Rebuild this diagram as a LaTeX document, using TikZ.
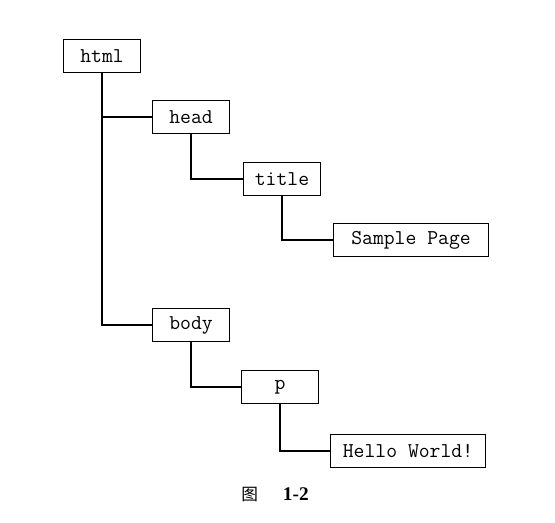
\documentclass[tikz,border=0pt]{standalone}
\usepackage{fontspec}
\newfontfamily\cjk{Noto Sans CJK SC}
\newfontfamily\capfont{Liberation Serif}
\tikzset{
	tag/.style={draw,line width=.8pt,minimum width=1.54cm,minimum height=.66cm,inner sep=0pt,font=\fontsize{12}{14}\ttfamily},
	wide/.style={tag,minimum width=3.1cm},
	branch/.style={line width=.8pt}
}
\begin{document}
\begin{tikzpicture}[x=.02cm,y=-.02cm]
\useasboundingbox (0,0) rectangle (555,522);
\node[tag] (html) at (102,56) {html};
\node[tag] (head) at (191,117) {head};
\node[tag] (title) at (282,179) {title};
\node[wide] (sample) at (411,240) {Sample Page};
\node[tag] (body) at (191,325) {body};
\node[tag] (p) at (280,387) {p};
\node[wide] (hello) at (408,451) {Hello World!};
\draw[branch] (html.south) |- (head.west);
\draw[branch] (html.south) |- (body.west);
\draw[branch] (head.south) |- (title.west);
\draw[branch] (title.south) |- (sample.west);
\draw[branch] (body.south) |- (p.west);
\draw[branch] (p.south) |- (hello.west);
\node (caption) at (275,495) {{\cjk\fontsize{9.5}{11}\selectfont 图}\hspace{.5cm}{\capfont\bfseries\fontsize{11}{13}\selectfont 1-2}};
\end{tikzpicture}
\end{document}
